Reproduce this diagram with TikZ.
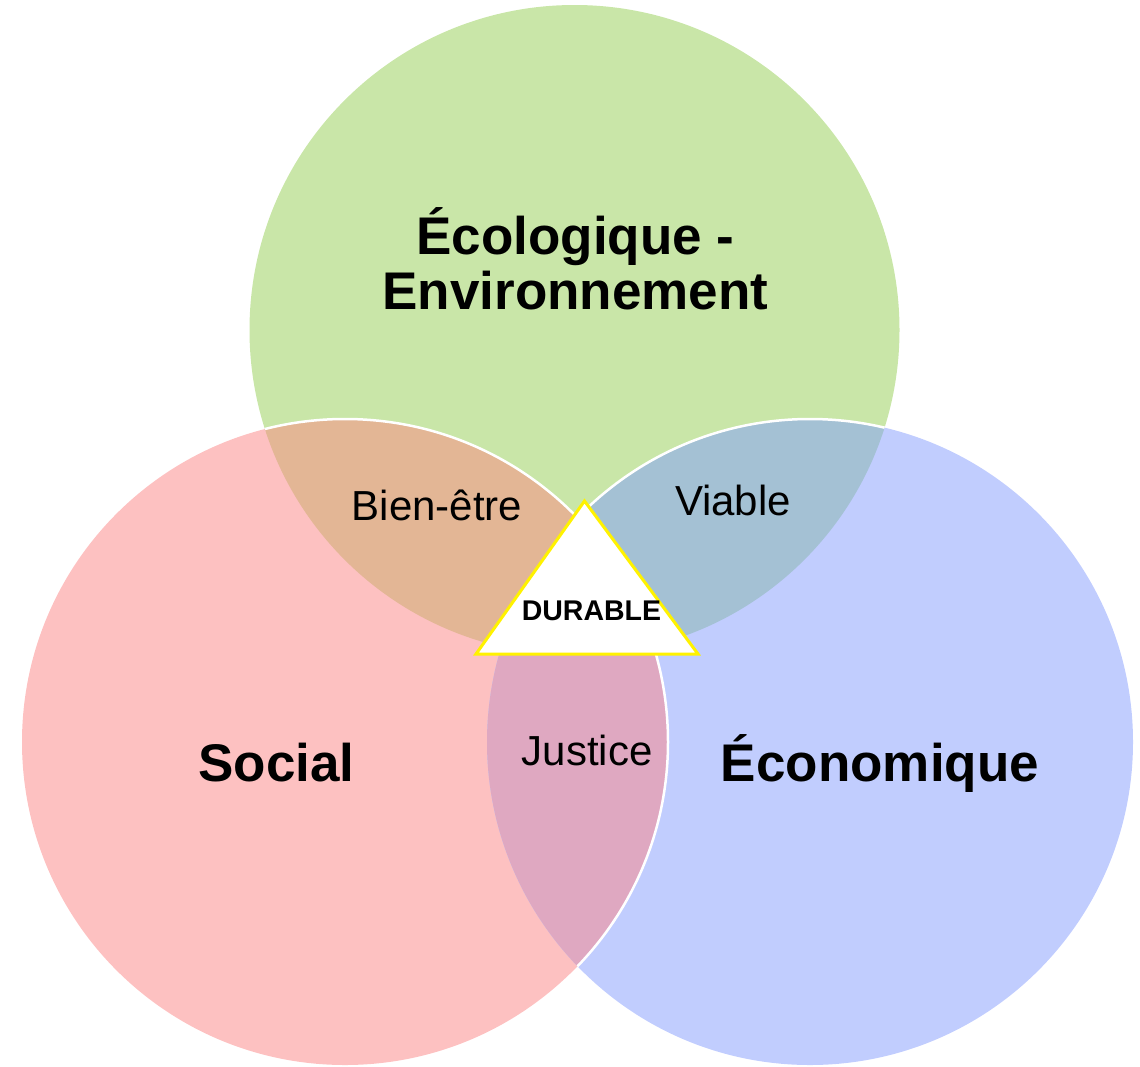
\documentclass[tikz,border=0pt]{standalone}
\usepackage{fontspec}
\setmainfont{Liberation Sans}
\usepackage{tikz}
\usetikzlibrary{positioning}
\definecolor{ecol}{HTML}{C9E6A8}
\definecolor{soc}{HTML}{FDC1C1}
\definecolor{ecn}{HTML}{C1CDFE}
\definecolor{ecolsoc}{HTML}{E3B695}
\definecolor{ecolecn}{HTML}{A4C1D4}
\definecolor{socecn}{HTML}{DFA8C1}
\definecolor{tri}{HTML}{FFF200}
\tikzset{
  pillar/.style={font=\fontsize{53}{55}\selectfont\bfseries, align=center, inner sep=0pt},
  meet/.style={font=\fontsize{42}{46}\selectfont, inner sep=0pt},
  core/.style={font=\fontsize{28.5}{30}\selectfont\bfseries, inner sep=0pt},
  seam/.style={draw=white, line width=2.5pt}
}

\begin{document}
\begin{tikzpicture}[x=1pt,y=-1pt]
  \useasboundingbox (0,0) rectangle (1140,1066);
  \coordinate (ecoC) at (574.5,330);
  \coordinate (socC) at (345,742);
  \coordinate (ecnC) at (810,742);
  % the three circles
  \fill[ecol] (ecoC) circle[radius=325];
  \fill[soc] (socC) circle[radius=323];
  \fill[ecn] (ecnC) circle[radius=323];
  % overlaps
  \begin{scope}
    \clip (ecoC) circle[radius=325];
    \fill[ecolsoc] (socC) circle[radius=323];
    \fill[ecolecn] (ecnC) circle[radius=323];
  \end{scope}
  \begin{scope}
    \clip (socC) circle[radius=323];
    \fill[socecn] (ecnC) circle[radius=323];
  \end{scope}
  % white seams
  \begin{scope}
    \clip (ecoC) circle[radius=325];
    \draw[seam] (socC) circle[radius=323];
    \draw[seam] (ecnC) circle[radius=323];
  \end{scope}
  \begin{scope}
    \clip (ecnC) circle[radius=323];
    \draw[seam] (socC) circle[radius=323];
  \end{scope}
  % centre
  \draw[draw=tri, line width=3pt, fill=white] (584.5,501) -- (698,654) -- (476,654) -- cycle;
  \node[core, anchor=base] (durable) at (591.5,620) {DURABLE};
  % labels
  \node[pillar, anchor=base] (ecotxt) at (575.5,309) {Écologique -\\Environnement};
  \node[pillar, anchor=base] (soctxt) at (276.5,781) {Social};
  \node[pillar, anchor=base] (ecntxt) at (880,781) {Économique};
  \node[meet, anchor=base] (bien) at (437,520) {Bien-être};
  \node[meet, anchor=base] (viable) at (733,515) {Viable};
  \node[meet, anchor=base] (justice) at (587,765) {Justice};
\end{tikzpicture}
\end{document}
